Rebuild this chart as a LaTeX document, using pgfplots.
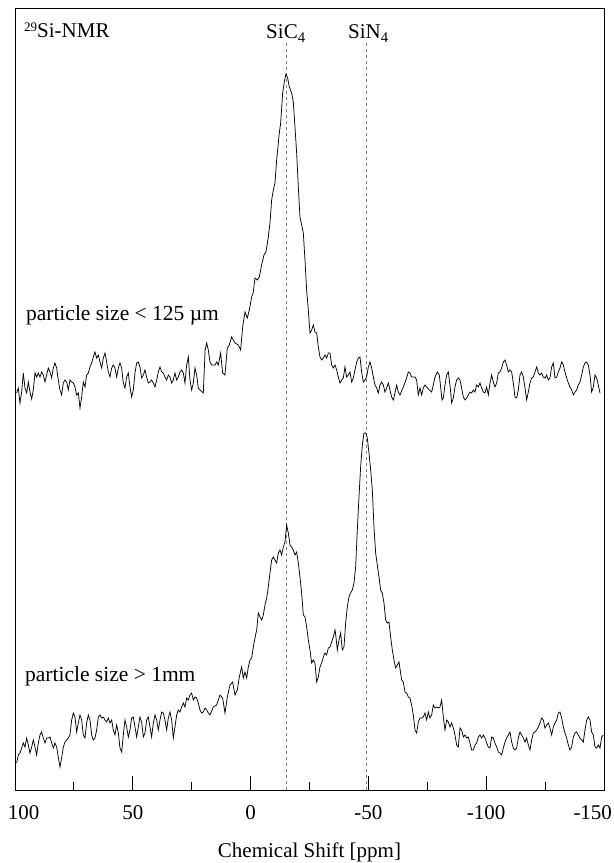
\documentclass[border=0pt]{standalone}
\usepackage{fontspec}
\setmainfont{Liberation Serif}
\usepackage{pgfplots}
\usepackage{pgfplotstable}
\pgfplotsset{compat=1.18}

\pgfplotstableread{
99.30 397
98.59 402
97.88 387
97.17 398
96.47 417
95.76 402
95.05 397
94.34 408
93.64 398
92.93 391
92.22 400
91.51 417
90.81 413
90.10 417
89.39 413
88.69 418
87.98 415
87.27 408
86.56 415
85.86 422
85.15 418
84.44 412
83.73 422
83.03 427
82.32 422
81.61 410
80.90 400
80.20 395
79.49 407
78.78 410
78.07 408
77.37 400
76.66 410
75.95 408
75.24 407
74.54 403
73.83 395
73.12 397
72.41 382
71.71 393
71.00 408
70.29 403
69.59 415
68.88 417
68.17 423
67.46 427
66.76 433
66.05 438
65.34 432
64.63 435
63.93 428
63.22 422
62.51 432
61.80 437
61.10 428
60.39 418
59.68 413
58.97 422
58.27 425
57.56 422
56.85 413
56.14 422
55.44 427
54.73 422
54.02 407
53.32 402
52.61 413
51.90 417
51.19 403
50.49 393
49.78 400
49.07 417
48.36 427
47.66 428
46.95 423
46.24 412
45.53 415
44.83 420
44.12 413
43.41 407
42.70 408
42.00 410
41.29 407
40.58 403
39.87 410
39.17 418
38.46 423
37.75 418
37.04 417
36.34 413
35.63 410
34.92 415
34.22 413
33.51 407
32.80 410
32.09 417
31.39 410
30.68 413
29.97 418
29.26 420
28.56 417
27.85 407
27.14 425
26.43 433
25.73 410
25.02 400
24.31 407
23.60 422
22.90 415
22.19 402
21.48 400
20.07 397
19.30 440
18.65 447
17.94 440
17.24 428
16.53 425
15.11 425
14.41 428
13.70 425
12.71 437
11.86 417
10.87 415
9.88 442
9.03 445
8.04 453
6.62 447
5.21 445
4.22 440
3.37 463
2.38 478
1.39 472
0.54 480
-0.45 493
-1.16 498
-1.86 512
-2.85 510
-3.70 513
-4.69 525
-5.68 535
-6.53 538
-7.52 553
-8.23 567
-8.94 590
-9.65 600
-10.35 607
-11.06 630
-12.19 657
-12.76 667
-13.61 697
-14.31 708
-15.02 716
-15.73 712
-16.44 703
-17.43 697
-18.13 688
-18.84 663
-19.55 637
-20.26 603
-20.96 573
-21.67 565
-22.38 557
-23.09 530
-23.79 500
-24.50 480
-25.21 457
-25.92 460
-26.62 465
-27.33 458
-28.04 457
-28.75 443
-29.45 433
-30.16 430
-30.87 432
-31.57 435
-32.28 432
-32.99 437
-33.70 437
-34.40 425
-35.11 422
-35.82 425
-36.53 420
-37.23 413
-37.94 407
-38.65 410
-39.36 412
-40.06 423
-40.77 413
-41.48 415
-42.19 418
-42.89 408
-43.60 412
-44.31 420
-45.02 428
-45.72 432
-46.43 433
-47.14 418
-47.85 408
-48.55 410
-49.26 413
-49.97 423
-50.67 428
-51.38 422
-52.09 413
-52.80 405
-53.50 402
-54.21 397
-54.92 405
-55.63 408
-56.33 405
-57.04 398
-57.75 402
-58.46 407
-59.16 400
-59.87 393
-60.58 390
-61.29 397
-61.99 405
-62.70 398
-63.41 395
-64.82 403
-65.96 410
-66.95 418
-67.65 417
-68.36 413
-69.78 413
-70.48 410
-71.19 395
-71.90 402
-72.61 395
-73.31 402
-74.02 405
-74.73 403
-75.86 400
-76.85 398
-77.56 405
-78.27 413
-79.26 418
-80.10 415
-80.67 403
-81.24 390
-81.80 392
-82.51 405
-83.22 415
-83.92 418
-84.63 405
-85.34 387
-86.05 392
-86.75 403
-87.46 410
-88.17 412
-88.88 410
-89.58 402
-90.29 393
-91.00 390
-91.71 392
-92.41 395
-93.12 398
-93.83 397
-94.54 400
-95.24 398
-95.95 405
-96.66 403
-97.37 407
-98.07 402
-98.78 398
-99.49 397
-100.19 403
-100.90 395
-101.61 407
-102.32 415
-103.02 408
-103.73 403
-104.44 407
-105.15 417
-105.85 418
-106.56 422
-107.27 428
-107.98 430
-108.68 425
-109.39 418
-110.10 420
-110.81 418
-111.51 407
-112.22 393
-112.93 392
-113.64 400
-114.34 415
-115.05 418
-115.76 413
-116.47 402
-117.17 390
-117.88 398
-118.59 407
-119.30 412
-120.00 413
-120.71 418
-121.42 423
-122.12 417
-122.83 415
-123.54 417
-124.25 413
-124.95 412
-125.66 415
-126.37 410
-127.08 412
-127.78 423
-128.49 427
-129.20 412
-129.91 413
-130.61 418
-131.32 422
-132.03 428
-132.74 425
-133.44 418
-134.15 412
-134.86 407
-135.57 403
-136.27 400
-136.98 395
-137.69 398
-138.39 400
-139.10 405
-139.81 408
-140.52 415
-141.22 423
-141.93 427
-142.64 428
-143.35 425
-144.05 415
-144.76 398
-145.47 403
-146.18 415
-146.88 412
-147.59 405
-148.30 397
}\upperdata

\pgfplotstableread{
99.30 27
98.59 35
97.88 37
97.17 42
96.47 47
95.76 43
95.05 52
94.34 45
93.64 37
92.93 43
92.22 50
91.51 43
90.81 35
90.10 47
89.39 55
88.69 58
87.98 52
87.27 47
86.56 52
85.86 52
85.15 53
84.44 47
83.73 42
83.03 47
82.32 43
81.61 33
80.90 23
80.20 32
79.49 43
78.78 48
78.07 50
77.37 52
76.66 55
75.95 70
75.24 77
74.54 73
73.83 58
73.12 67
72.41 75
71.71 70
71.00 55
70.29 52
69.59 67
68.88 75
68.17 70
67.46 55
66.76 50
66.05 52
65.34 60
64.63 73
63.93 75
63.22 72
62.51 73
61.80 70
61.10 68
60.39 72
59.68 67
58.97 70
58.27 60
57.56 55
56.85 65
56.14 57
55.44 42
54.73 38
54.02 55
53.32 70
52.61 63
51.90 53
51.19 60
50.49 72
49.78 73
49.07 63
48.36 53
47.66 63
46.95 73
46.24 68
45.53 53
44.83 57
44.12 70
43.41 73
42.70 63
42.00 53
41.29 67
40.58 75
39.87 70
39.17 60
38.46 70
37.75 78
37.04 77
36.34 70
35.63 60
34.92 72
34.22 78
33.51 70
32.80 52
32.09 63
31.39 75
30.68 80
29.97 78
29.26 83
28.56 87
27.85 83
27.14 92
26.43 90
25.73 95
25.02 97
24.31 90
23.60 93
22.90 92
22.19 87
21.48 80
20.78 77
20.07 78
19.36 82
18.65 80
17.94 77
17.24 75
15.82 83
14.41 85
12.99 95
11.86 92
10.87 77
9.88 93
8.75 105
7.62 108
6.62 95
5.63 100
4.79 113
3.80 123
3.09 112
2.38 118
1.67 112
0.97 123
0.26 130
-0.45 132
-1.16 143
-1.86 152
-2.57 160
-3.28 177
-3.99 173
-4.69 170
-5.40 175
-6.11 185
-6.82 192
-7.52 203
-8.23 217
-8.94 230
-9.65 233
-10.35 230
-11.06 227
-11.77 237
-12.48 240
-13.18 235
-13.89 243
-14.60 248
-15.30 265
-16.01 257
-16.72 245
-17.43 243
-18.13 240
-18.84 235
-19.55 238
-20.26 227
-20.96 213
-21.67 197
-22.38 175
-23.09 173
-23.79 163
-24.50 150
-25.21 140
-25.92 127
-26.62 130
-27.33 127
-28.04 108
-28.75 113
-29.45 123
-30.16 127
-30.87 133
-31.57 137
-32.28 135
-32.99 142
-33.70 143
-34.40 148
-35.11 153
-35.82 160
-36.24 153
-36.81 140
-37.52 150
-38.22 157
-38.93 140
-39.64 143
-40.35 167
-41.05 183
-41.76 193
-42.47 197
-43.18 200
-43.88 207
-44.59 223
-45.30 260
-46.01 293
-46.71 323
-47.42 345
-48.13 357
-48.84 357
-49.54 352
-50.25 337
-50.96 320
-51.67 300
-52.37 263
-53.08 237
-53.79 225
-54.50 213
-55.20 200
-55.91 197
-56.62 187
-57.32 170
-58.03 167
-58.74 168
-59.45 153
-60.15 140
-60.86 130
-61.57 122
-62.28 125
-62.98 128
-64.12 110
-64.82 108
-65.53 98
-66.24 97
-66.95 93
-67.65 92
-68.36 85
-69.07 75
-69.78 60
-70.48 57
-71.19 68
-71.90 72
-72.61 72
-73.31 73
-74.02 77
-74.73 70
-75.44 78
-76.14 72
-76.85 75
-77.56 85
-78.27 82
-78.97 83
-79.68 82
-80.39 83
-81.10 90
-81.80 73
-82.51 60
-83.22 70
-83.92 68
-84.63 63
-85.34 67
-86.05 62
-86.75 55
-87.46 45
-88.17 43
-88.88 62
-89.58 60
-90.29 53
-91.00 55
-91.71 52
-92.41 53
-93.12 47
-93.83 40
-94.54 40
-95.24 45
-95.95 47
-96.66 53
-97.37 55
-98.07 52
-98.78 55
-99.49 52
-100.19 47
-100.90 43
-101.61 42
-102.32 53
-103.02 52
-103.73 47
-104.44 43
-105.15 38
-105.85 37
-106.56 35
-107.27 42
-107.98 48
-108.68 52
-109.39 55
-110.10 58
-110.81 48
-111.51 42
-112.22 40
-112.93 42
-113.64 52
-114.34 58
-115.05 55
-115.76 52
-116.47 48
-117.17 52
-117.88 45
-118.59 40
-119.30 50
-120.00 57
-120.71 58
-121.42 60
-122.12 63
-122.83 67
-123.54 72
-124.25 70
-124.95 62
-125.66 65
-126.37 67
-127.08 62
-127.78 55
-128.49 63
-129.20 67
-129.91 70
-130.61 77
-131.32 78
-132.03 72
-132.74 63
-133.44 57
-134.15 52
-134.86 45
-135.57 40
-136.27 43
-136.98 53
-137.69 57
-138.39 58
-139.10 55
-139.81 52
-140.52 50
-141.22 48
-141.93 60
-142.64 70
-143.35 73
-144.05 70
-144.76 58
-145.47 55
-146.18 43
-146.88 42
-147.59 45
-148.30 42
-149.00 53
-149.71 55
}\lowerdata

\begin{document}
\begin{tikzpicture}
\begin{axis}[
  scale only axis,
  width=589pt, height=782pt,
  xmin=-150, xmax=100, x dir=reverse,
  ymin=0, ymax=782,
  ytick=\empty,
  xtick={100,50,0,-50,-100,-150},
  xticklabels={\rlap{\hspace{-7pt}100},50,0,-50,-100,\llap{-150\hspace{-8pt}}},
  minor xtick={75,25,-25,-75,-125},
  xtick pos=bottom,
  tick align=inside,
  major tick length=14pt,
  minor tick length=8pt,
  every tick/.style={black, line width=0.8pt},
  axis line style={black, line width=0.9pt},
  tick label style={font=\fontsize{21}{25}\selectfont, yshift=-12pt},
  xlabel={Chemical Shift [ppm]},
  xlabel style={font=\fontsize{21}{25}\selectfont, at={(axis description cs:0.5,0)}, anchor=base, yshift=-67pt},
  clip=false,
]
\addplot[gray, line width=0.5pt, dash pattern=on 3pt off 3pt] coordinates {(-15,0) (-15,748)};
\addplot[gray, line width=0.5pt, dash pattern=on 3pt off 3pt] coordinates {(-49,0) (-49,748)};
\addplot[black, line width=0.75pt] table {\upperdata};
\addplot[black, line width=0.75pt] table {\lowerdata};
\node[anchor=base west, font=\fontsize{21}{25}\selectfont] at (axis cs:97.6,752) {{\fontsize{13}{15}\selectfont\raisebox{6pt}{29}}Si-NMR};
\node[anchor=base, font=\fontsize{21}{25}\selectfont] at (axis cs:-15.0,751) {SiC\textsubscript{4}};
\node[anchor=base, font=\fontsize{21}{25}\selectfont] at (axis cs:-50.0,751) {SiN\textsubscript{4}};
\node[anchor=base west, font=\fontsize{21.5}{25}\selectfont] at (axis cs:96.8,469) {particle size < 125 µm};
\node[anchor=base west, font=\fontsize{21.5}{25}\selectfont] at (axis cs:97.2,108) {particle size > 1mm};
\end{axis}
\pgfresetboundingbox
\path ([xshift=-15pt,yshift=-73pt]current axis.south west) rectangle ([xshift=10pt,yshift=8pt]current axis.north east);
\end{tikzpicture}
\end{document}
